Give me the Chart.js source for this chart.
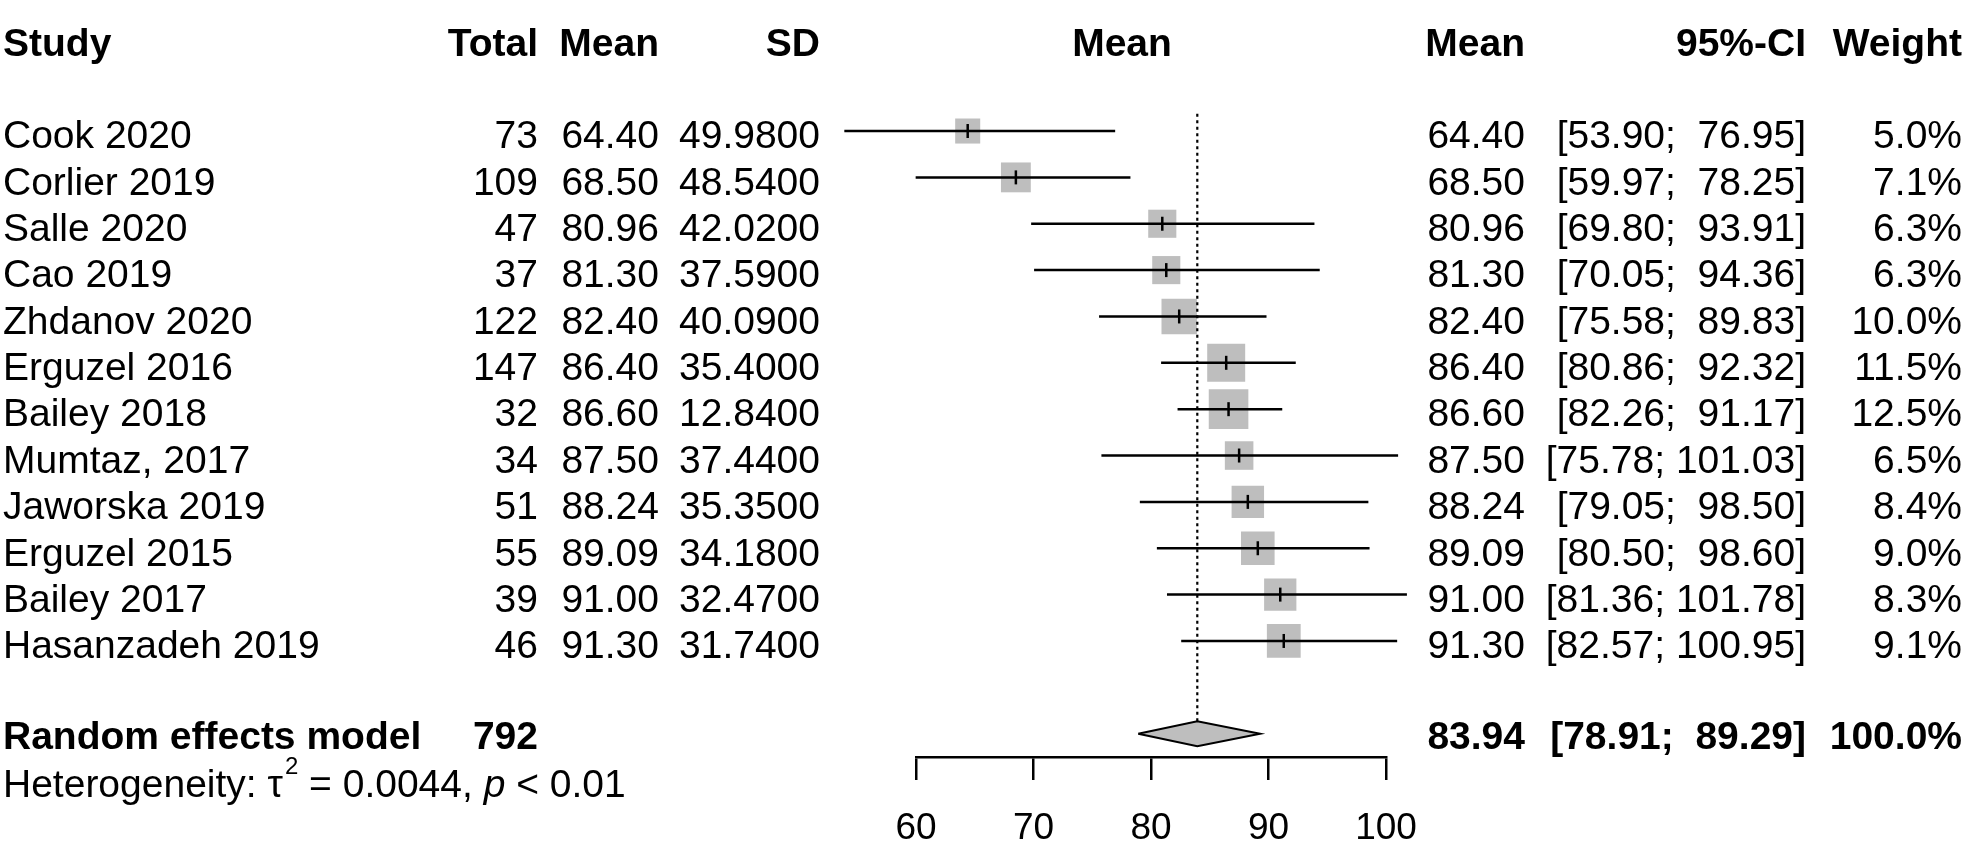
<!DOCTYPE html>
<html>
<head>
<meta charset="utf-8">
<script src="https://cdn.jsdelivr.net/npm/chart.js@4/dist/chart.umd.min.js"></script>
<style>
html,body{margin:0;padding:0;background:#fff;}
#wrap{width:1968px;height:846px;position:relative;}
</style>
</head>
<body>
<div id="wrap"><canvas id="c"></canvas></div>
<script>
// ---- data ----
const studies = ['Cook 2020','Corlier 2019','Salle 2020','Cao 2019','Zhdanov 2020','Erguzel 2016','Bailey 2018','Mumtaz, 2017','Jaworska 2019','Erguzel 2015','Bailey 2017','Hasanzadeh 2019'];
const totals = [73,109,47,37,122,147,32,34,51,55,39,46];
const means = [64.40,68.50,80.96,81.30,82.40,86.40,86.60,87.50,88.24,89.09,91.00,91.30];
const sds = [49.98,48.54,42.02,37.59,40.09,35.40,12.84,37.44,35.35,34.18,32.47,31.74];
const ciLow = [53.90,59.97,69.80,70.05,75.58,80.86,82.26,75.78,79.05,80.50,81.36,82.57];
const ciHigh = [76.95,78.25,93.91,94.36,89.83,92.32,91.17,101.03,98.50,98.60,101.78,100.95];
const weights = [5.0,7.1,6.3,6.3,10.0,11.5,12.5,6.5,8.4,9.0,8.3,9.1];
const pooledLabel = 'Random effects model';
const pooledTotal = 792;
const pooledMean = 83.94;
const pooledLow = 78.91;
const pooledHigh = 89.29;
const pooledWeight = 100.0;
const tau2 = '0.0044';
const pText = '< 0.01';
const xTicks = [60,70,80,90,100];
const headers = ['Study','Total','Mean','SD','Mean','Mean','95%-CI','Weight'];

// ---- layout / style constants ----
const FONT = '"Liberation Sans", Arial, Helvetica, sans-serif';
const HEADER_ROW = -1, SUMMARY_ROW = 14, HET_ROW = 15;
const DIAMOND_HALF = 0.27;
const BOX_K = 11.2; // px per sqrt(weight%)
const GREY = '#BEBEBE';
const rowOf = i => i + 1;

const ciData = [];
studies.forEach((s, i) => {
  ciData.push({x: ciLow[i], y: rowOf(i)}, {x: ciHigh[i], y: rowOf(i)}, {x: means[i], y: null});
});
const pointData = studies.map((s, i) => ({x: means[i], y: rowOf(i)}));
const diamondData = [
  {x: pooledLow, y: SUMMARY_ROW},
  {x: pooledMean, y: SUMMARY_ROW - DIAMOND_HALF},
  {x: pooledHigh, y: SUMMARY_ROW},
  {x: pooledMean, y: SUMMARY_ROW + DIAMOND_HALF},
  {x: pooledLow, y: SUMMARY_ROW}
];

const textPlugin = {
  id: 'forestText',
  afterDraw(chart) {
    const ctx = chart.ctx;
    const ys = chart.scales.y;
    ctx.save();
    ctx.fillStyle = '#000';
    ctx.textBaseline = 'alphabetic';
    const put = (txt, x, r, align, style, size, off) => {
      ctx.font = (style ? style + ' ' : '') + (size || 39) + 'px ' + FONT;
      ctx.textAlign = align;
      ctx.fillText(txt, x, ys.getPixelForValue(r) + (off === undefined ? 17.3 : off));
    };
    const col = {study: 3, total: 538, mean: 659, sd: 820, plot: 1122, eff: 1525, ci: 1806, w: 1962};
    // headers
    put(headers[0], col.study, HEADER_ROW, 'left', 'bold');
    put(headers[1], col.total, HEADER_ROW, 'right', 'bold');
    put(headers[2], col.mean, HEADER_ROW, 'right', 'bold');
    put(headers[3], col.sd, HEADER_ROW, 'right', 'bold');
    put(headers[4], col.plot, HEADER_ROW, 'center', 'bold');
    put(headers[5], col.eff, HEADER_ROW, 'right', 'bold');
    put(headers[6], col.ci, HEADER_ROW, 'right', 'bold');
    put(headers[7], col.w, HEADER_ROW, 'right', 'bold');
    const ciStr = (lo, hi) => '[' + lo.toFixed(2) + '; ' + hi.toFixed(2).padStart(6, ' ') + ']';
    studies.forEach((s, i) => {
      const r = rowOf(i);
      put(s, col.study, r, 'left');
      put(String(totals[i]), col.total, r, 'right');
      put(means[i].toFixed(2), col.mean, r, 'right');
      put(sds[i].toFixed(4), col.sd, r, 'right');
      put(means[i].toFixed(2), col.eff, r, 'right');
      put(ciStr(ciLow[i], ciHigh[i]), col.ci, r, 'right');
      put(weights[i].toFixed(1) + '%', col.w, r, 'right');
    });
    // summary
    put(pooledLabel, col.study, SUMMARY_ROW, 'left', 'bold', 39, 15);
    put(String(pooledTotal), col.total, SUMMARY_ROW, 'right', 'bold', 39, 15);
    put(pooledMean.toFixed(2), col.eff, SUMMARY_ROW, 'right', 'bold', 39, 15);
    put(ciStr(pooledLow, pooledHigh), col.ci, SUMMARY_ROW, 'right', 'bold', 39, 15);
    put(pooledWeight.toFixed(1) + '%', col.w, SUMMARY_ROW, 'right', 'bold', 39, 15);
    // heterogeneity
    const base = ys.getPixelForValue(HET_ROW) + 17.3;
    ctx.textAlign = 'left';
    let x = col.study;
    const seg = (t, font, dy) => {
      ctx.font = font;
      ctx.fillText(t, x, base + (dy || 0));
      x += ctx.measureText(t).width;
    };
    seg('Heterogeneity: \u03C4', '39px ' + FONT);
    x += 2;
    seg('2', '24px ' + FONT, -23);
    seg(' = ' + tau2 + ', ', '39px ' + FONT);
    seg('p', 'italic 39px ' + FONT);
    seg(' ' + pText, '39px ' + FONT);
    ctx.restore();
  }
};

new Chart(document.getElementById('c'), {
  type: 'line',
  data: {
    datasets: [
      {
        label: 'centre', data: pointData, showLine: false,
        pointStyle: 'line', pointRotation: 90, pointRadius: 7,
        pointBorderWidth: 2.5, pointBorderColor: '#000', pointBackgroundColor: '#000',
        order: 1, clip: false
      },
      {
        label: 'pooled', data: [{x: pooledMean, y: 0.63}, {x: pooledMean, y: SUMMARY_ROW - DIAMOND_HALF}],
        borderColor: '#000', borderWidth: 2.2, borderDash: [3, 3.5], pointRadius: 0, fill: false, order: 2
      },
      {
        label: 'diamond', data: diamondData, borderColor: '#000', borderWidth: 2,
        backgroundColor: GREY, fill: 'shape', pointRadius: 0, tension: 0, order: 3
      },
      {
        label: 'ci', data: ciData, borderColor: '#000', borderWidth: 2.5,
        pointRadius: 0, spanGaps: false, fill: false, order: 4, clip: false
      },
      {
        label: 'boxes', data: pointData, showLine: false, pointStyle: 'rect',
        pointRadius: weights.map(w => BOX_K * Math.sqrt(w) / Math.SQRT2),
        pointBackgroundColor: GREY, pointBorderColor: GREY, pointBorderWidth: 0,
        order: 5, clip: false
      }
    ]
  },
  options: {
    responsive: true,
    maintainAspectRatio: false,
    devicePixelRatio: 1,
    animation: false,
    events: [],
    layout: {padding: {left: 916, right: 582, top: 0, bottom: 0}},
    plugins: {legend: {display: false}, tooltip: {enabled: false}, title: {display: false}},
    scales: {
      x: {
        type: 'linear', min: 60, max: 100, position: 'bottom',
        afterFit: s => { s.height = 89; },
        afterBuildTicks: s => { s.ticks = xTicks.map(v => ({value: v})); },
        ticks: {font: {family: FONT, size: 37}, color: '#000', padding: 27, maxRotation: 0, autoSkip: false},
        grid: {display: true, drawOnChartArea: false, drawTicks: true, tickLength: 23, color: '#000', lineWidth: 2.5},
        border: {display: true, color: '#000', width: 2.5}
      },
      y: {type: 'linear', reverse: true, min: -1.311, max: 14.503, display: false}
    }
  },
  plugins: [textPlugin]
});
</script>
</body>
</html>
